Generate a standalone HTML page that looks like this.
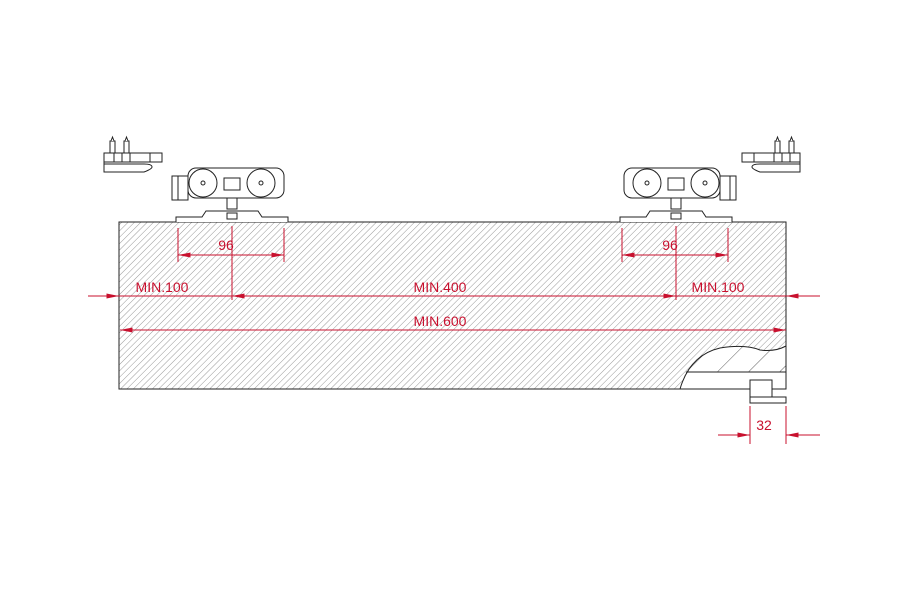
<!DOCTYPE html>
<html><head><style>html,body{margin:0;padding:0;background:#fff}svg{display:block}</style></head>
<body>
<svg width="900" height="601" viewBox="0 0 900 601" xmlns="http://www.w3.org/2000/svg" font-family="Liberation Sans, sans-serif">
<defs>
<pattern id="h" width="4.5" height="4.5" patternUnits="userSpaceOnUse" patternTransform="rotate(45)">
<line x1="0" y1="0" x2="0" y2="4.5" stroke="#999" stroke-width="1"/>
</pattern>
<pattern id="h2" width="22" height="22" patternUnits="userSpaceOnUse" patternTransform="rotate(45)">
<line x1="0" y1="0" x2="0" y2="22" stroke="#333" stroke-width="0.8"/>
</pattern>
<marker id="a" viewBox="0 0 10 4" refX="10" refY="2" markerWidth="14" markerHeight="5" markerUnits="userSpaceOnUse" orient="auto"><path d="M0,0 L10,2 L0,4z" fill="#c8102e"/></marker>
<g id="trolley" fill="#fff" stroke="#222" stroke-width="1">
<rect x="-60" y="-46" width="16" height="24"/>
<line x1="-54" y1="-46" x2="-54" y2="-22"/>
<rect x="-44" y="-54" width="96" height="30" rx="8"/>
<circle cx="-29" cy="-39" r="14"/><circle cx="-29" cy="-39" r="2"/>
<circle cx="29" cy="-39" r="14"/><circle cx="29" cy="-39" r="2"/>
<rect x="-8" y="-44" width="16" height="12"/>
<rect x="-5" y="-24" width="10" height="11"/>
<path d="M-56,0 V-5 H-30 L-26,-11 H26 L30,-5 H56 V0"/>
<rect x="-5" y="-9" width="10" height="6"/>
</g>
<g id="tap" fill="#fff" stroke="#222" stroke-width="1">
<rect x="0" y="20" width="58" height="9"/>
<line x1="10" y1="20" x2="10" y2="29"/><line x1="18" y1="20" x2="18" y2="29"/><line x1="26" y1="20" x2="26" y2="29"/><line x1="46" y1="20" x2="46" y2="29"/>
<rect x="6" y="8" width="5" height="12"/><rect x="20" y="8" width="5" height="12"/>
<path d="M7,8 L8.5,4 L10,8 M21,8 L22.5,4 L24,8"/>
<path d="M0,29 V39 H40 Q48,36 48,34 Q48,31 40,31 H0"/>
</g>
</defs>
<rect x="119" y="222" width="667" height="167" fill="url(#h)" stroke="#222" stroke-width="1"/>
<path d="M680,389 Q690,355 720,348 Q745,344 760,350 Q775,352 786,346 V389 Z" fill="#fff"/>
<path d="M680,389 Q690,355 720,348 Q745,344 760,350 Q775,352 786,346 V372 H686 Z" fill="url(#h2)"/>
<path d="M680,389 Q690,355 720,348 Q745,344 760,350 Q775,352 786,346" fill="none" stroke="#222"/>
<line x1="686" y1="372" x2="786" y2="372" stroke="#222"/>
<rect x="119" y="222" width="667" height="167" fill="none" stroke="#222" stroke-width="1"/>
<rect x="750" y="380" width="22" height="17" fill="#fff" stroke="#222"/>
<rect x="750" y="397" width="36" height="6" fill="#fff" stroke="#222"/>
<use href="#trolley" x="232" y="222"/>
<use href="#trolley" x="676" y="222" transform="translate(1352,0) scale(-1,1)"/>
<use href="#tap" x="104" y="133"/>
<use href="#tap" transform="translate(800,133) scale(-1,1)"/>
<g stroke="#c8102e" stroke-width="1" fill="none">
<line x1="178" y1="228" x2="178" y2="262"/><line x1="284" y1="228" x2="284" y2="262"/>
<line x1="622" y1="228" x2="622" y2="262"/><line x1="728" y1="228" x2="728" y2="262"/>
<line x1="232" y1="226" x2="232" y2="300"/><line x1="676" y1="226" x2="676" y2="300"/>
<line x1="231" y1="255" x2="178" y2="255" marker-end="url(#a)"/><line x1="231" y1="255" x2="284" y2="255" marker-end="url(#a)"/>
<line x1="675" y1="255" x2="622" y2="255" marker-end="url(#a)"/><line x1="675" y1="255" x2="728" y2="255" marker-end="url(#a)"/>
<line x1="88" y1="296" x2="119" y2="296" marker-end="url(#a)"/>
<line x1="119" y1="296" x2="232" y2="296"/>
<line x1="454" y1="296" x2="232" y2="296" marker-end="url(#a)"/><line x1="454" y1="296" x2="676" y2="296" marker-end="url(#a)"/>
<line x1="676" y1="296" x2="786" y2="296"/>
<line x1="820" y1="296" x2="786" y2="296" marker-end="url(#a)"/>
<line x1="452" y1="330" x2="120" y2="330" marker-end="url(#a)"/><line x1="452" y1="330" x2="786" y2="330" marker-end="url(#a)"/>
<line x1="750" y1="406" x2="750" y2="444"/><line x1="786" y1="406" x2="786" y2="444"/>
<line x1="718" y1="435" x2="750" y2="435" marker-end="url(#a)"/>
<line x1="820" y1="435" x2="786" y2="435" marker-end="url(#a)"/>
</g>
<g fill="#c8102e" font-size="14" text-anchor="middle">
<text x="226" y="250">96</text><text x="670" y="250">96</text>
<text x="162" y="292">MIN.100</text><text x="440" y="292">MIN.400</text><text x="718" y="292">MIN.100</text>
<text x="440" y="326">MIN.600</text><text x="764" y="430">32</text>
</g>
</svg>
</body></html>
